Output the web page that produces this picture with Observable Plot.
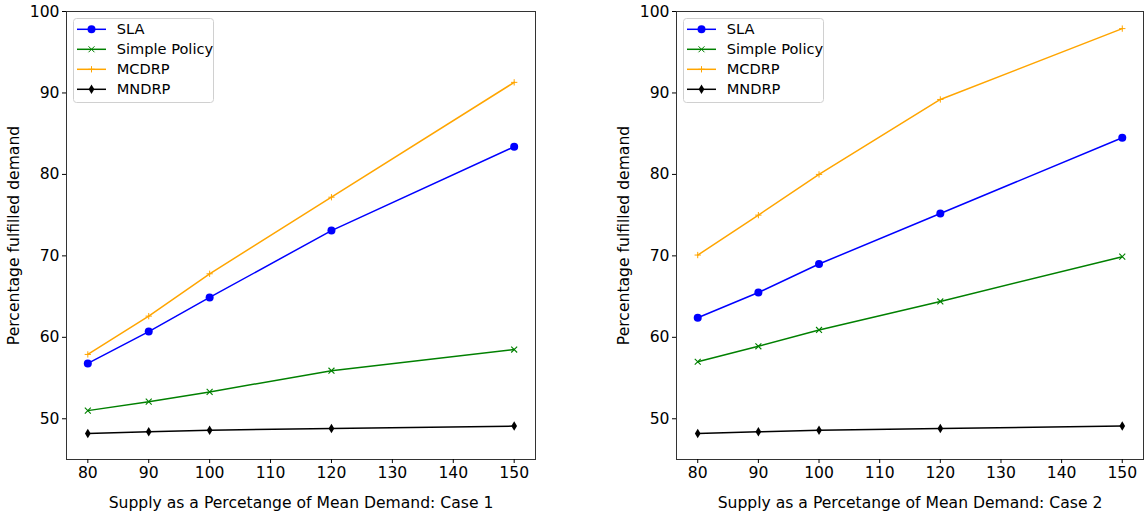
<!DOCTYPE html>
<html><head><meta charset="utf-8">
<script src="https://cdn.jsdelivr.net/npm/d3@7"></script>
<script src="https://cdn.jsdelivr.net/npm/@observablehq/plot@0.6"></script>
<style>
body{margin:0;background:#fff;}
#wrap{position:relative;width:1144px;height:518px;overflow:hidden;font-family:"DejaVu Sans",sans-serif;color:#000;}
.panel{position:absolute;top:0;}
.legend{position:absolute;top:18px;}
</style></head><body><div id="wrap"></div>
<script>
// ---- data ----
const supply = [80, 90, 100, 120, 150];
const xTicks = [80, 90, 100, 110, 120, 130, 140, 150];
const yTicks = [50, 60, 70, 80, 90, 100];
const seriesNames = ["SLA", "Simple Policy", "MCDRP", "MNDRP"];
const seriesColors = ["#0000ff", "#008000", "#ffa500", "#000000"];

const case1SLA    = [56.8, 60.7, 64.9, 73.1, 83.4];
const case1Simple = [51.0, 52.1, 53.3, 55.9, 58.5];
const case1MCDRP  = [57.9, 62.6, 67.8, 77.2, 91.3];
const case1MNDRP  = [48.2, 48.4, 48.6, 48.8, 49.1];

const case2SLA    = [62.4, 65.5, 69.0, 75.2, 84.5];
const case2Simple = [57.0, 58.9, 60.9, 64.4, 69.9];
const case2MCDRP  = [70.1, 75.0, 80.0, 89.2, 97.9];
const case2MNDRP  = [48.2, 48.4, 48.6, 48.8, 49.1];

// ---- symbols ----
const symCircle = {draw(c, s){ const r = Math.sqrt(s/Math.PI); c.moveTo(r,0); c.arc(0,0,r,0,2*Math.PI); }};
const symTimes = {draw(c, s){ const r = Math.sqrt(s/Math.PI)*0.85; c.moveTo(-r,-r); c.lineTo(r,r); c.moveTo(-r,r); c.lineTo(r,-r); }};
const symPlus = {draw(c, s){ const r = Math.sqrt(s/Math.PI)*0.9; c.moveTo(-r,0); c.lineTo(r,0); c.moveTo(0,-r); c.lineTo(0,r); }};
const symThinDiamond = {draw(c, s){ const r = Math.sqrt(s/Math.PI); c.moveTo(0,-r*1.25); c.lineTo(r*0.75,0); c.lineTo(0,r*1.25); c.lineTo(-r*0.75,0); c.closePath(); }};
const symbols = [symCircle, symTimes, symPlus, symThinDiamond];
const filled = [true, false, false, true];
const radii = [4, 3.5, 3.5, 3.8];

function rows(vals){
  const out = [];
  vals.forEach((arr, si) => arr.forEach((v, i) => out.push({s: seriesNames[si], x: supply[i], y: v})));
  return out;
}

const AX_FONT = 15.6;

function makePanel(vals, caseLabel, left, width, mL, mR){
  const data = rows(vals);
  const marks = [Plot.frame({stroke:"#333", strokeWidth:1})];
  seriesNames.forEach((name, si) => {
    const d = data.filter(r => r.s === name);
    marks.push(Plot.line(d, {x:"x", y:"y", stroke: seriesColors[si], strokeWidth:1.5}));
    marks.push(Plot.dot(d, filled[si]
      ? {x:"x", y:"y", symbol: () => symbols[si], r: radii[si], fill: seriesColors[si], stroke: "none"}
      : {x:"x", y:"y", symbol: () => symbols[si], r: radii[si], stroke: seriesColors[si], strokeWidth: si===2 ? 1 : 1.1, fill:"none"}));
  });
  marks.push(Plot.axisX({ticks: xTicks, tickSize: 4, tickPadding: 3, fontSize: AX_FONT, label: "Supply as a Percetange of Mean Demand: " + caseLabel, labelAnchor: "center", labelArrow: "none", labelOffset: 48}));
  marks.push(Plot.axisY({ticks: yTicks, tickSize: 4, tickPadding: 3, fontSize: AX_FONT, label: "Percentage fulfilled demand", labelAnchor: "center", labelArrow: "none", labelOffset: 59}));
  const chart = Plot.plot({
    width, height: 518,
    marginLeft: mL, marginRight: mR, marginTop: 11, marginBottom: 59,
    x: {domain: [76.5, 153.5]},
    y: {domain: [45, 100]},
    symbol: {type: "identity"},
    style: {fontFamily: "DejaVu Sans, sans-serif", fontSize: AX_FONT + "px", color: "#000", background: "transparent", overflow: "visible"},
    marks
  });
  const div = document.createElement("div");
  div.className = "panel";
  div.style.left = left + "px";
  div.style.width = width + "px";
  div.appendChild(chart);
  // legend
  const ns = "http://www.w3.org/2000/svg";
  const lg = document.createElementNS(ns, "svg");
  lg.setAttribute("class", "legend");
  lg.setAttribute("width", 141); lg.setAttribute("height", 85);
  lg.style.left = (mL + 6.5) + "px";
  const box = document.createElementNS(ns, "rect");
  box.setAttribute("x", 0.5); box.setAttribute("y", 0.5); box.setAttribute("width", 140); box.setAttribute("height", 84);
  box.setAttribute("rx", 3); box.setAttribute("fill", "rgba(255,255,255,0.8)"); box.setAttribute("stroke", "#d0d0d0");
  lg.appendChild(box);
  seriesNames.forEach((name, si) => {
    const cy = 11.3 + si * 20;
    const ln = document.createElementNS(ns, "line");
    ln.setAttribute("x1", 4); ln.setAttribute("x2", 33); ln.setAttribute("y1", cy); ln.setAttribute("y2", cy);
    ln.setAttribute("stroke", seriesColors[si]); ln.setAttribute("stroke-width", 1.5);
    lg.appendChild(ln);
    const p = document.createElementNS(ns, "path");
    const r = radii[si];
    p.setAttribute("d", d3.symbol(symbols[si], Math.PI*r*r)());
    p.setAttribute("transform", `translate(18.5,${cy})`);
    if (filled[si]) { p.setAttribute("fill", seriesColors[si]); }
    else { p.setAttribute("fill", "none"); p.setAttribute("stroke", seriesColors[si]); p.setAttribute("stroke-width", 1); }
    lg.appendChild(p);
    const t = document.createElementNS(ns, "text");
    t.setAttribute("x", 43.7); t.setAttribute("y", cy); t.setAttribute("dy", "0.35em");
    t.setAttribute("font-size", "14.6px"); t.setAttribute("font-family", "DejaVu Sans, sans-serif");
    t.textContent = name;
    lg.appendChild(t);
  });
  div.appendChild(lg);
  document.getElementById("wrap").appendChild(div);
}

makePanel([case1SLA, case1Simple, case1MCDRP, case1MNDRP], "Case 1", 0, 545, 66, 10);
makePanel([case2SLA, case2Simple, case2MCDRP, case2MNDRP], "Case 2", 609, 535, 67, 1);
</script>
</body></html>
